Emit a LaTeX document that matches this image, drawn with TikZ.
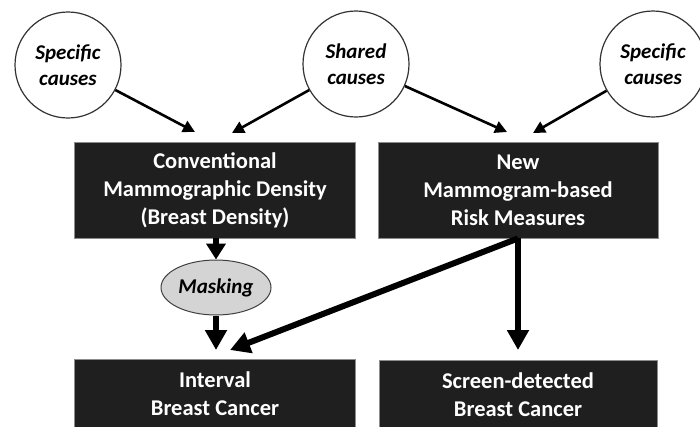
\documentclass[tikz,border=0pt]{standalone}
\usepackage{fontspec}
\setmainfont{Carlito}
\usetikzlibrary{arrows.meta,shapes.geometric}
\begin{document}
\begin{tikzpicture}[x=1pt,y=-1pt,
 cause/.style={circle,draw=black!80,line width=1.2pt,fill=white,minimum size=106pt,inner sep=0pt,align=center,font=\fontsize{21}{26}\selectfont\bfseries\itshape},
 darkbox/.style={rectangle,draw=black!45,line width=0.8pt,fill=black!88,text=white,align=center,font=\fontsize{22.5}{28}\selectfont\bfseries,inner sep=0pt},
 maskell/.style={ellipse,draw=black!75,line width=1pt,fill=black!17,minimum width=110pt,minimum height=55pt,inner sep=0pt,font=\fontsize{21}{24}\selectfont\bfseries\itshape},
 thinarrow/.style={line width=2.6pt,-{Triangle[length=12pt,width=12pt]}},
 thickarrow/.style={line width=6pt,-{Triangle[length=20pt,width=21pt]}}
]
\useasboundingbox (0,0) rectangle (700,426);
\fill[white] (0,0) rectangle (700,426);

\node[cause] (sc1) at (68,65) {Specific\\causes};
\node[cause] (shc) at (356,64) {Shared\\causes};
\node[cause] (sc2) at (653,64) {Specific\\causes};

\node[darkbox,minimum width=281pt,minimum height=96pt] (conv) at (215,190) {Conventional\\Mammographic Density\\(Breast Density)};
\node[darkbox,minimum width=280pt,minimum height=96pt] (new) at (518,190) {New\\Mammogram-based\\Risk Measures};
\node[darkbox,minimum width=281pt,minimum height=70pt] (intv) at (215,394) {Interval\\Breast Cancer};
\node[darkbox,minimum width=278pt,minimum height=70pt] (scr) at (518,395) {Screen-detected\\Breast Cancer};

\node[maskell] (mask) at (216,287.5) {Masking};

\coordinate (t1) at (195,132);
\coordinate (t2) at (232,133);
\coordinate (t3) at (507,132);
\coordinate (t4) at (533,133);
\coordinate (t5) at (216,350);
\coordinate (t6) at (230,350);
\coordinate (t7) at (518,350);

\draw[thinarrow] (sc1) -- (t1);
\draw[thinarrow] (shc) -- (t2);
\draw[thinarrow] (shc) -- (t3);
\draw[thinarrow] (sc2) -- (t4);

\draw[thickarrow,-{Triangle[length=16pt,width=19pt]}] (conv.south -| mask.north) -- (mask.north);
\draw[thickarrow] (mask.south) -- (t5);
\draw[thickarrow] (new.south) -- (t6);
\draw[thickarrow] (new.south) -- (t7);
\end{tikzpicture}
\end{document}
